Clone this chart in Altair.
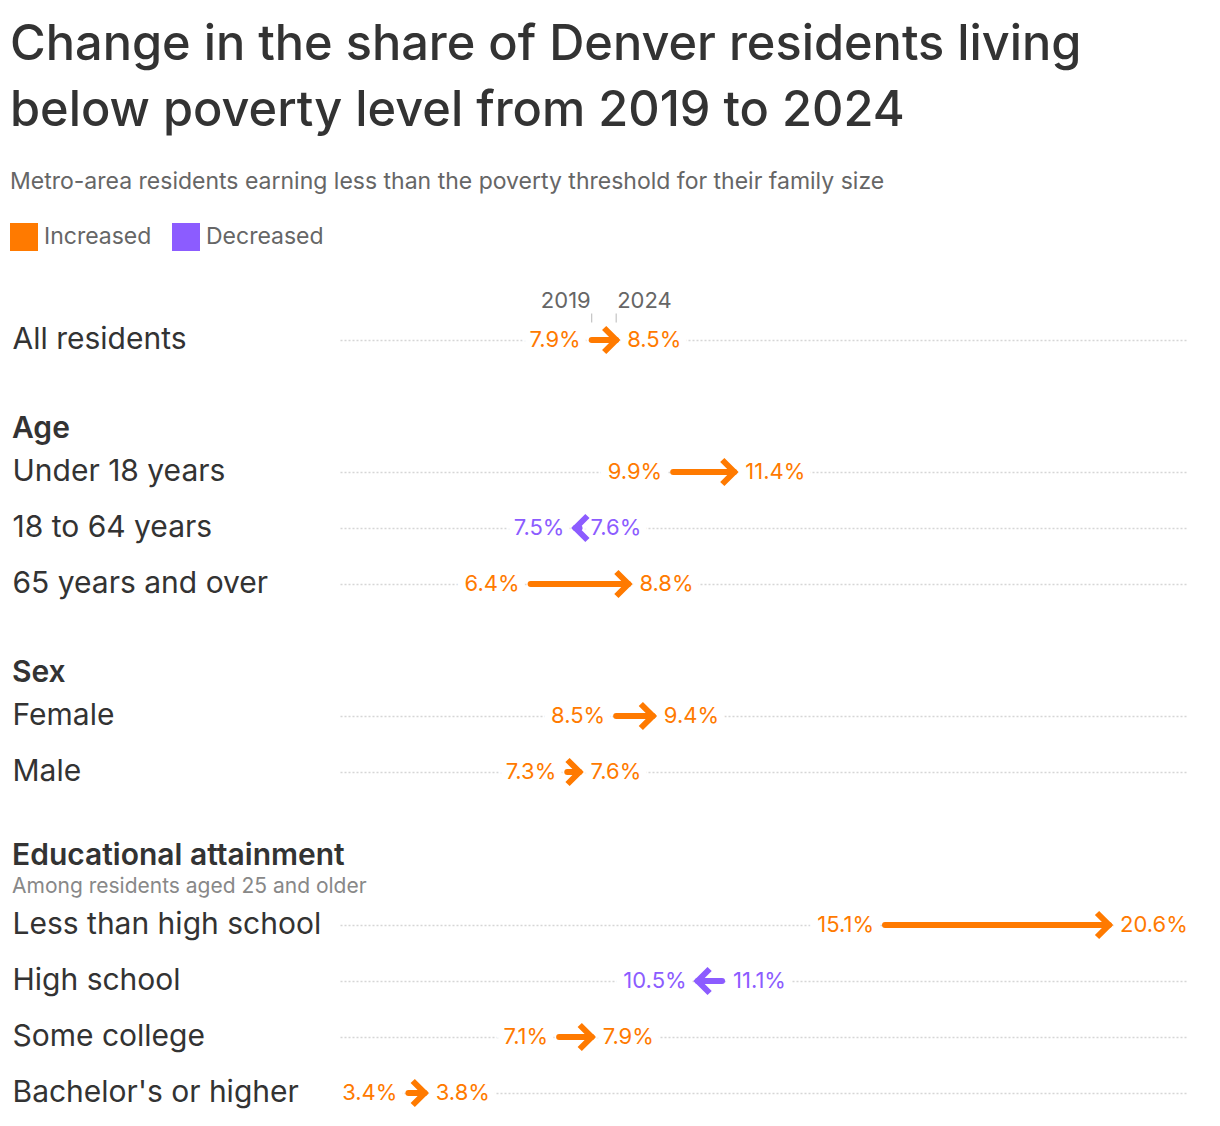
import altair as alt
import numpy as np
import pandas as pd

# ---- data ----
categories = ["All residents", "Under 18 years", "18 to 64 years", "65 years and over",
              "Female", "Male",
              "Less than high school", "High school", "Some college", "Bachelor's or higher"]
groups = ["", "Age", "Age", "Age", "Sex", "Sex",
          "Educational attainment", "Educational attainment",
          "Educational attainment", "Educational attainment"]
v2019 = [7.9, 9.9, 7.6, 6.4, 8.5, 7.3, 15.1, 11.1, 7.1, 3.4]
v2024 = [8.5, 11.4, 7.5, 8.8, 9.4, 7.6, 20.6, 10.5, 7.9, 3.8]
group_order = ["", "Age", "Sex", "Educational attainment"]
group_notes = {"Educational attainment": "Among residents aged 25 and older"}
year_labels = ["2019", "2024"]
directions = ["Increased", "Decreased"]
colors = ["#ff7a00", "#8c5cff"]

FONT = "Inter"

df = pd.DataFrame({"category": categories, "group": groups,
                   "v2019": v2019, "v2024": v2024})
df["direction"] = np.where(df["v2024"] >= df["v2019"], directions[0], directions[1])
df["lo"] = df[["v2019", "v2024"]].min(axis=1)
df["hi"] = df[["v2019", "v2024"]].max(axis=1)
df["lo_label"] = df["lo"].map(lambda v: f"{v:.1f}%")
df["hi_label"] = df["hi"].map(lambda v: f"{v:.1f}%")

W = 846
STEP = 56
VAL_FS = 22
xscale = alt.Scale(domain=[1.72, 22.49], nice=False, zero=False)
cscale = alt.Scale(domain=directions, range=colors)
RIGHT = "M-1,-1L0,0L-1,1"
LEFT = "M1,-1L0,0L1,1"


def section(gname):
    d = df[df["group"] == gname]
    cats = list(d["category"])
    yaxis = alt.Axis(title=None, domain=False, ticks=False, tickSize=0,
                     labelAlign="left", labelPadding=328, labelFontSize=30,
                     labelColor="#333", labelFont=FONT, labelBaseline="middle",
                     labelLimit=0, grid=True, gridDash=[2, 2], gridColor="#d6d6d6",
                     gridWidth=1.5, bandPosition=0.5)
    yenc = alt.Y("category:N", sort=cats,
                 scale=alt.Scale(paddingInner=0, paddingOuter=0), axis=yaxis)
    base = alt.Chart(d)
    col = alt.Color("direction:N", scale=cscale, legend=None)

    halo_lo = base.mark_text(align="right", dx=-11, baseline="middle", fontSize=VAL_FS,
                             font=FONT, fill="white", stroke="white",
                             strokeWidth=16).encode(
        x=alt.X("lo:Q", scale=xscale, axis=None), y=yenc, text="lo_label:N")
    halo_hi = base.mark_text(align="left", dx=11, baseline="middle", fontSize=VAL_FS,
                             font=FONT, fill="white", stroke="white",
                             strokeWidth=16).encode(
        x=alt.X("hi:Q", scale=xscale, axis=None), y=yenc, text="hi_label:N")
    shaft = base.mark_rule(strokeWidth=6, strokeCap="round").encode(
        x=alt.X("v2019:Q", scale=xscale, axis=None),
        x2="v2024:Q", y=yenc, color=col)
    heads = []
    for dname, path in zip(directions, [RIGHT, LEFT]):
        heads.append(base.transform_filter(alt.datum.direction == dname).mark_point(
            shape=path, size=576, strokeWidth=6, strokeJoin="miter",
            strokeCap="butt", opacity=1, filled=False).encode(
            x=alt.X("v2024:Q", scale=xscale, axis=None), y=yenc, color=col))
    lab_lo = base.mark_text(align="right", dx=-11, baseline="middle", fontSize=VAL_FS,
                            font=FONT).encode(
        x=alt.X("lo:Q", scale=xscale, axis=None), y=yenc, text="lo_label:N", color=col)
    lab_hi = base.mark_text(align="left", dx=11, baseline="middle", fontSize=VAL_FS,
                            font=FONT).encode(
        x=alt.X("hi:Q", scale=xscale, axis=None), y=yenc, text="hi_label:N", color=col)

    layers = [halo_lo, halo_hi, shaft] + heads + [lab_lo, lab_hi]

    if gname == "":
        legend_layer = base.mark_point(shape="square", filled=True, opacity=0).encode(
            x=alt.X("v2024:Q", scale=xscale, axis=None),
            y=yenc,
            color=alt.Color("direction:N", scale=cscale,
                            legend=alt.Legend(
                                title=None, orient="none", legendX=-330, legendY=-89,
                                direction="horizontal",
                                symbolType="square", symbolSize=784,
                                labelFontSize=23, labelColor="#666", labelFont=FONT,
                                symbolOpacity=1, columnPadding=20, labelOffset=6,
                                symbolStrokeWidth=0)))
        row = d.iloc[0]
        ann = pd.DataFrame({"category": [row["category"]] * 2,
                            "value": [row["v2019"], row["v2024"]],
                            "label": year_labels})
        abase = alt.Chart(ann)
        ticks = abase.mark_tick(thickness=1, size=9, yOffset=-22,
                                color="#9a9a9a").encode(
            x=alt.X("value:Q", scale=xscale, axis=None), y=yenc)
        y19 = abase.transform_filter(alt.datum.label == year_labels[0]).mark_text(
            align="right", dx=-1, dy=-32, baseline="alphabetic", fontSize=22,
            font=FONT, color="#666").encode(
            x=alt.X("value:Q", scale=xscale, axis=None), y=yenc, text="label:N")
        y24 = abase.transform_filter(alt.datum.label == year_labels[1]).mark_text(
            align="left", dx=1, dy=-32, baseline="alphabetic", fontSize=22,
            font=FONT, color="#666").encode(
            x=alt.X("value:Q", scale=xscale, axis=None), y=yenc, text="label:N")
        layers = [legend_layer] + layers + [ticks, y19, y24]

    ch = alt.layer(*layers).properties(width=W, height=alt.Step(STEP))
    if gname:
        tkw = dict(text=gname, anchor="start", frame="bounds", fontSize=30,
                   fontWeight=600, color="#333", font=FONT, offset=0)
        if gname in group_notes:
            tkw.update(subtitle=group_notes[gname], subtitleFontSize=21,
                       subtitleColor="#888", subtitleFont=FONT, subtitlePadding=5)
        ch = ch.properties(title=alt.TitleParams(**tkw))
    return ch


secs = [section(g) for g in group_order]
chart = alt.vconcat(alt.vconcat(*secs[:3], spacing=46), secs[3], spacing=41).properties(
    title=alt.TitleParams(
        text=["Change in the share of Denver residents living",
              "below poverty level from 2019 to 2024"],
        subtitle="Metro-area residents earning less than the poverty threshold for their family size",
        anchor="start", frame="bounds", fontSize=48.7, fontWeight=500, color="#333",
        font=FONT, lineHeight=66, offset=28, subtitleFontSize=23,
        subtitleColor="#666", subtitleFont=FONT, subtitlePadding=34),
    padding={"left": 2, "top": 13, "right": 2, "bottom": 2},
).configure(font=FONT).configure_view(stroke=None)

chart.save("out.html", embed_options={"renderer": "svg", "actions": False})
